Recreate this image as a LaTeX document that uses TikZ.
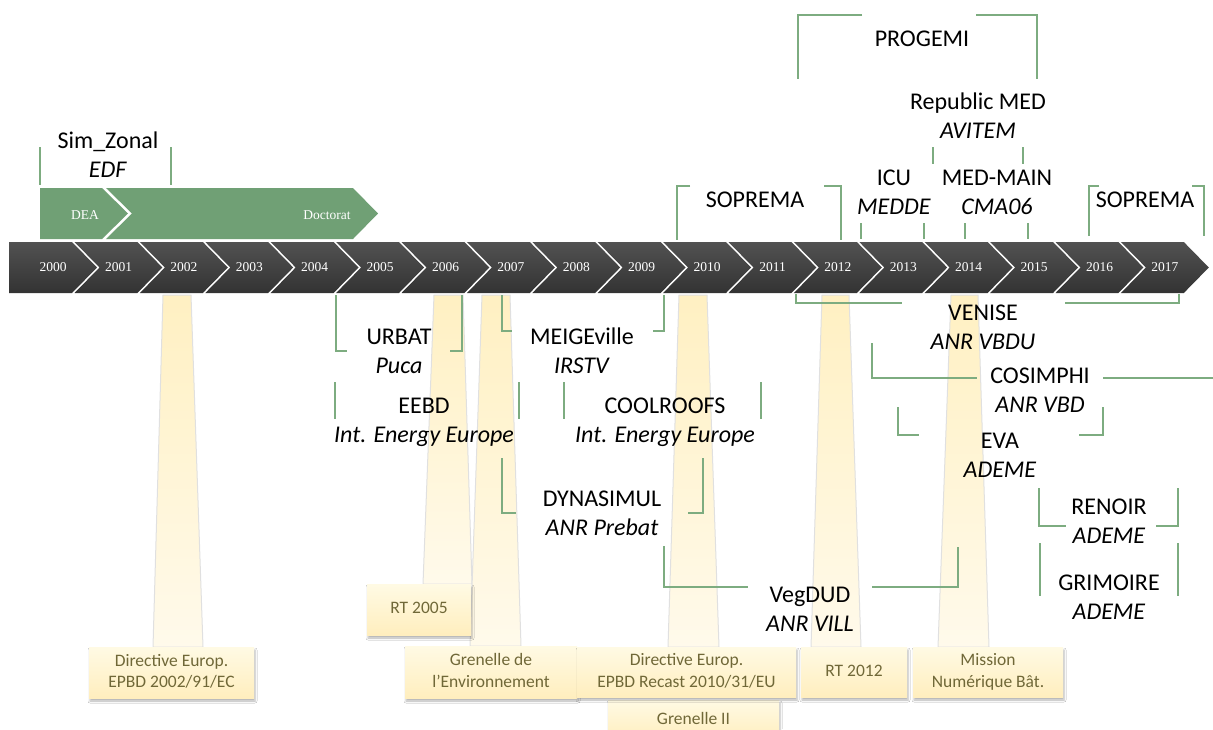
\documentclass[tikz,border=0pt]{standalone}
\usepackage{fontspec}
\setmainfont{Carlito}
\newfontfamily\serifyr{Liberation Serif}
\usetikzlibrary{shadows,shadows.blur}
\definecolor{gline}{RGB}{125,172,128}
\definecolor{gfill}{RGB}{112,160,117}
\definecolor{boxtext}{RGB}{112,104,56}
\definecolor{beamtop}{RGB}{255,240,194}
\definecolor{beambot}{RGB}{255,250,235}
\definecolor{boxtop}{RGB}{255,250,228}
\definecolor{boxbot}{RGB}{255,238,190}
\newcommand\projlab[2]{\strut #1\\\strut\textit{#2}}
\tikzset{
  chev/.style={top color=black!68, bottom color=black!80, draw=none},
  gchev/.style={fill=gfill, draw=none},
  yr/.style={font=\serifyr\fontsize{13.5}{16}\selectfont, text=white, inner sep=0},
  phase/.style={font=\serifyr\fontsize{13.5}{16}\selectfont, text=white, inner sep=0},
  beam/.style={top color=beamtop, bottom color=beambot, draw=black!12, line width=1},
  evbox/.style={top color=boxtop, bottom color=boxbot, draw=none, inner sep=0,
    align=center, text=boxtext, font=\fontsize{17.5}{21.5}\selectfont,
    blur shadow={shadow xshift=1pt, shadow yshift=-3pt, shadow blur radius=2pt, shadow opacity=30}},
  gl/.style={draw=gline, line width=1.4},
  lab/.style={font=\fontsize{24}{29}\selectfont, align=center, inner sep=0, text=black}
}
\begin{document}
\begin{tikzpicture}[x=1pt,y=-1pt]
\useasboundingbox (0,0) rectangle (1213,729);
\fill[white] (0,0) rectangle (1213,729);

% ---------- beams ----------
\foreach \a/\b/\c/\d/\yb in {163/191/153/203/647, 434/463/423/472/584, 482/510/470/521/646, 679/707/668/719/647, 822/849/811/861/647, 951/978/938/989/647}
  \path[beam] (\a,295) -- (\b,295) -- (\d,\yb) -- (\c,\yb) -- cycle;

% ---------- event boxes ----------
\node[evbox, minimum width=165, minimum height=51] (dir1) at (171.5,672.5) {\strut Directive Europ.\\\strut EPBD 2002/91/EC};
\node[evbox, minimum width=104, minimum height=51] (rt2005) at (419,609.5) {\strut RT 2005};
\node[evbox, minimum width=171, minimum height=40] (gren2) at (693.5,720) {\strut Grenelle II};
\node[evbox, minimum width=172, minimum height=52] (gren) at (491,672) {\strut Grenelle de\\\strut l’Environnement};
\node[evbox, minimum width=219, minimum height=50] (dir2) at (686.5,672) {\strut Directive Europ.\\\strut EPBD Recast 2010/31/EU};
\node[evbox, minimum width=106, minimum height=50] (rt2012) at (854,672) {\strut RT 2012};
\node[evbox, minimum width=150, minimum height=50] (mission) at (988,672) {\strut Mission\\\strut Numérique Bât.};

% ---------- timeline ----------
\foreach \i [evaluate=\i as \xl using 6.6+65.4*\i, evaluate=\i as \xr using 6.6+65.4*(\i+1), evaluate=\i as \xc using 53.1+65.4*\i, evaluate=\i as \yy using int(2000+\i)] in {0,...,17}{
  \ifnum\i=0
    \path[chev] (9,242) -- (\xr,242) -- (\xr+25,267.5) -- (\xr,293) -- (9,293) -- cycle;
  \else
    \path[chev] (\xl+2.5,242) -- (\xr,242) -- (\xr+25,267.5) -- (\xr,293) -- (\xl+2.5,293) -- (\xl+27.5,267.5) -- cycle;
  \fi
  \node[yr] (y\i) at (\xc,267) {\yy};
}

% ---------- DEA / Doctorat ----------
\path[gchev] (40,188) -- (102,188) -- (128,213.5) -- (102,239) -- (40,239) -- cycle;
\path[gchev] (106,188) -- (353,188) -- (378,213.5) -- (353,239) -- (106,239) -- (132,213.5) -- cycle;
\node[phase] (dea) at (85,215) {DEA};
\node[phase] (doct) at (327,215) {Doctorat};

% ---------- brackets ----------
\draw[gl] (40,147) -- (40,185);
\draw[gl] (171,147) -- (171,185);
\draw[gl] (690,186) -- (677,186) -- (677,240);
\draw[gl] (824,186) -- (841,186) -- (841,240);
\draw[gl] (862,15) -- (798,15) -- (798,79);
\draw[gl] (976,15) -- (1037,15) -- (1037,79);
\draw[gl] (933,147) -- (933,164);
\draw[gl] (1023,147) -- (1023,164);
\draw[gl] (861,223) -- (861,239);
\draw[gl] (924,223) -- (924,239);
\draw[gl] (965,223) -- (965,239);
\draw[gl] (1028,223) -- (1028,239);
\draw[gl] (1099,186) -- (1089,186) -- (1089,236);
\draw[gl] (1192,186) -- (1204,186) -- (1204,236);
\draw[gl] (796,294) -- (796,303) -- (902,303);
\draw[gl] (1065,303) -- (1179,303) -- (1179,294);
\draw[gl] (336,295) -- (336,351) -- (347,351);
\draw[gl] (450,351) -- (462,351) -- (462,295);
\draw[gl] (502,295) -- (502,331) -- (512,331);
\draw[gl] (653,331) -- (664,331) -- (664,295);
\draw[gl] (335,382) -- (335,419);
\draw[gl] (519,382) -- (519,419);
\draw[gl] (564,382) -- (564,419);
\draw[gl] (761,382) -- (761,419);
\draw[gl] (502,458) -- (502,513) -- (516,513);
\draw[gl] (688,513) -- (703,513) -- (703,458);
\draw[gl] (664,546) -- (664,587) -- (748,587);
\draw[gl] (872,587) -- (958,587) -- (958,547);
\draw[gl] (872,343) -- (872,378) -- (977,378);
\draw[gl] (1103,378) -- (1213,378);
\draw[gl] (898,407) -- (898,435) -- (919,435);
\draw[gl] (1079,435) -- (1103,435) -- (1103,407);
\draw[gl] (1039,488) -- (1039,526) -- (1066,526);
\draw[gl] (1156,526) -- (1178,526) -- (1178,488);
\draw[gl] (1040,543) -- (1040,596);
\draw[gl] (1178,543) -- (1178,596);

% ---------- project labels ----------
\node[lab] (simzonal) at (108,157.5) {\projlab{Sim\_Zonal}{EDF}};
\node[lab] (soprema1) at (755,202) {\strut SOPREMA};
\node[lab] (progemi) at (922,41) {\strut PROGEMI};
\node[lab] (republic) at (978,118) {\projlab{Republic MED}{AVITEM}};
\node[lab] (icu) at (894,194.5) {\projlab{ICU}{MEDDE}};
\node[lab] (medmain) at (997,194.5) {\projlab{MED-MAIN}{CMA06}};
\node[lab] (soprema2) at (1145,202) {\strut SOPREMA};
\node[lab] (urbat) at (399,353.5) {\projlab{URBAT}{Puca}};
\node[lab] (meige) at (582,353.5) {\projlab{MEIGEville}{IRSTV}};
\node[lab] (eebd) at (424,422) {\projlab{EEBD}{Int. Energy Europe}};
\node[lab] (coolroofs) at (665,422) {\projlab{COOLROOFS}{Int. Energy Europe}};
\node[lab] (dynasimul) at (602,515.5) {\projlab{DYNASIMUL}{ANR Prebat}};
\node[lab] (vegdud) at (810,611) {\projlab{VegDUD}{ANR VILL}};
\node[lab] (venise) at (983,329) {\projlab{VENISE}{ANR VBDU}};
\node[lab] (cosimphi) at (1040,392) {\projlab{COSIMPHI}{ANR VBD}};
\node[lab] (eva) at (1000,457) {\projlab{EVA}{ADEME}};
\node[lab] (renoir) at (1109,523.5) {\projlab{RENOIR}{ADEME}};
\node[lab] (grimoire) at (1109,599.5) {\projlab{GRIMOIRE}{ADEME}};
\end{tikzpicture}
\end{document}
